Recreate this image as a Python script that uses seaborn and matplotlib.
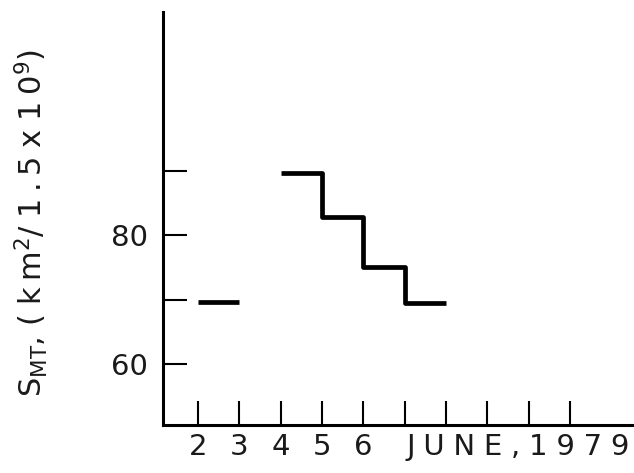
import matplotlib
matplotlib.use('Agg')
import matplotlib.pyplot as plt
import seaborn as sns
import pandas as pd

# step chart data
seg1_days = [2, 3]
seg1_vals = [69.6, 69.6]
seg2_days = [4, 5, 6, 7, 8]
seg2_vals = [89.7, 82.9, 75.1, 69.5, 69.5]

x_ticks = [2, 3, 4, 5, 6, 7, 8, 9, 10, 11]
x_labels = ['2', '3', '4', '5', '6', '', '', '', '', '']
y_ticks = [60, 70, 80, 90]
y_labels = ['60', '', '80', '']

df = pd.DataFrame({
    'day': seg1_days + seg2_days,
    'S': seg1_vals + seg2_vals,
    'seg': [1] * len(seg1_days) + [2] * len(seg2_days),
})

sns.set_style('white')
plt.rcParams['font.family'] = ['DejaVu Sans']

fig = plt.figure(figsize=(6.34, 4.73), dpi=100)
ax = fig.add_axes([0.257, 0.1015, 0.743, 0.873])

sns.lineplot(data=df, x='day', y='S', units='seg', estimator=None,
             drawstyle='steps-post', color='black', linewidth=3.4,
             solid_capstyle='butt', ax=ax)

ax.set_xlim(1.153, 12.55)
ax.set_ylim(50.6, 114.6)
sns.despine(ax=ax, top=True, right=True)
for side in ['left', 'bottom']:
    ax.spines[side].set_linewidth(2.2)
    ax.spines[side].set_color('black')

ax.set_xticks(x_ticks)
ax.set_xticklabels(x_labels)
ax.set_yticks(y_ticks)
ax.set_yticklabels(y_labels)
ax.tick_params(axis='both', direction='in', length=17, width=1.5,
               color='black', labelsize=21, labelcolor='#1a1a1a')
ax.tick_params(axis='x', pad=6, bottom=True)
ax.tick_params(axis='y', pad=11, left=True)

ts = '\u2009'
hs = '\u2009\u200a'
ylab = (r'S$_{\mathregular{MT}}$,' + ' (' + hs + 'k' + ts + r'm$^{\mathregular{2}}$/'
        + hs + '1' + ts + '.' + ts + '5' + hs + 'x' + hs + '1' + ts + r'0$^{\mathregular{9}}$)')
ax.set_xlabel('')
ax.set_ylabel(ylab, fontsize=22, color='#1a1a1a')
ax.yaxis.set_label_coords(-0.24, 0.49)

ax.annotate(hs.join('JUNE,') + hs + hs.join('1979'), xy=(7.05, 0),
            xycoords=('data', 'axes fraction'),
            xytext=(0, -6), textcoords='offset points',
            ha='left', va='top', fontsize=21, color='#1a1a1a')

fig.savefig('out.png', dpi=100)
